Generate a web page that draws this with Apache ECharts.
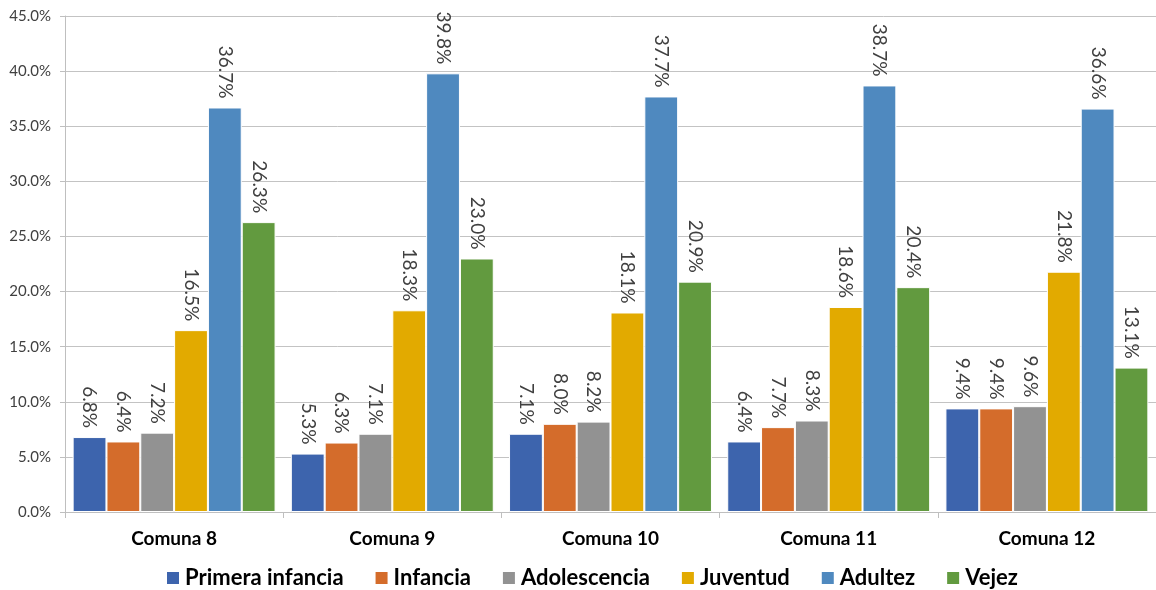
<!DOCTYPE html>
<html>
<head>
<meta charset="utf-8">
<script src="https://cdn.jsdelivr.net/npm/echarts@6/dist/echarts.min.js"></script>
<style>html,body{margin:0;padding:0;background:#fff}#c{width:1156px;height:590px}</style>
</head>
<body>
<div id="c"></div>
<script>
const categories = ['Comuna 8', 'Comuna 9', 'Comuna 10', 'Comuna 11', 'Comuna 12'];
const seriesNames = ['Primera infancia', 'Infancia', 'Adolescencia', 'Juventud', 'Adultez', 'Vejez'];
const primeraInfancia = [6.8, 5.3, 7.1, 6.4, 9.4];
const infancia = [6.4, 6.3, 8.0, 7.7, 9.4];
const adolescencia = [7.2, 7.1, 8.2, 8.3, 9.6];
const juventud = [16.5, 18.3, 18.1, 18.6, 21.8];
const adultez = [36.7, 39.8, 37.7, 38.7, 36.6];
const vejez = [26.3, 23.0, 20.9, 20.4, 13.1];
const colors = ['#3D64AD', '#D46C2B', '#929292', '#E2AA00', '#4F89BF', '#629A3F'];

const allValues = [primeraInfancia, infancia, adolescencia, juventud, adultez, vejez];
const font = 'Lato, "Open Sans", sans-serif';

const series = seriesNames.map((name, i) => ({
  name: name,
  type: 'bar',
  data: allValues[i],
  barGap: '0%',
  barCategoryGap: '7%',
  itemStyle: { color: colors[i], borderColor: '#ffffff', borderWidth: 1 },
  label: {
    show: true,
    position: 'top',
    rotate: -90,
    align: 'right',
    verticalAlign: 'middle',
    distance: 9,
    fontFamily: font,
    fontSize: 19,
    color: '#404040',
    formatter: p => p.value.toFixed(1) + '%'
  }
}));

const chart = echarts.init(document.getElementById('c'));
chart.setOption({
  animation: false,
  color: colors,
  grid: { left: 65, right: 0, top: 16, bottom: 78, containLabel: false },
  legend: {
    data: seriesNames,
    bottom: -4,
    left: 160,
    itemWidth: 14,
    itemHeight: 14,
    itemGap: 30,
    icon: 'rect',
    textStyle: { fontFamily: font, fontSize: 22, fontWeight: 'bold', color: '#000' }
  },
  xAxis: {
    type: 'category',
    data: categories,
    axisLine: { lineStyle: { color: '#bfbfbf' } },
    axisTick: { show: true, length: 6, lineStyle: { color: '#bfbfbf' } },
    axisLabel: { margin: 17, fontFamily: font, fontSize: 19, fontWeight: 'bold', color: '#000' }
  },
  yAxis: {
    type: 'value',
    min: 0,
    max: 45,
    interval: 5,
    axisLine: { show: true, lineStyle: { color: '#bfbfbf' } },
    axisTick: { show: true, length: 5, lineStyle: { color: '#bfbfbf' } },
    splitLine: { lineStyle: { color: '#c3c3c3' } },
    axisLabel: { margin: 14, fontFamily: font, fontSize: 15, color: '#404040', formatter: v => v.toFixed(1) + '%' }
  },
  series: series
});
</script>
</body>
</html>
